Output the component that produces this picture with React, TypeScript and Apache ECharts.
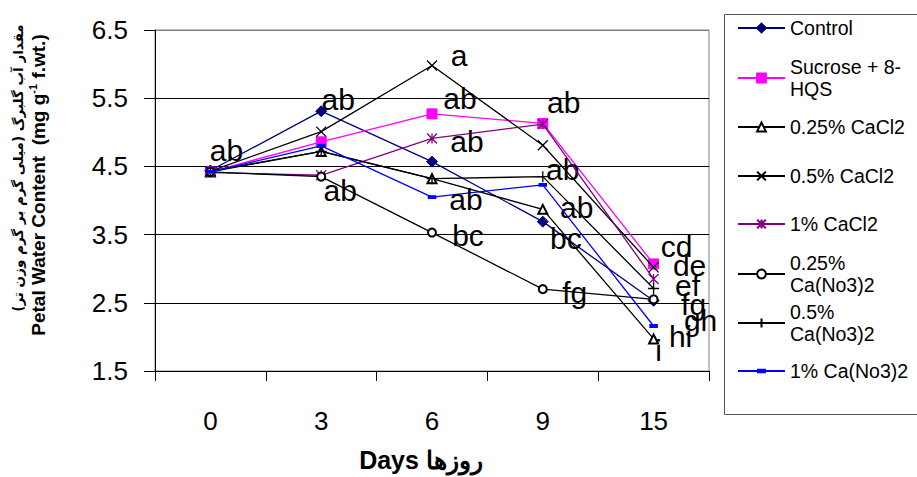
import React, { useEffect, useRef } from "react";
import * as echarts from "echarts";

const DAYS = ["0", "3", "6", "9", "15"];
const Y_TICKS_MIN = 1.5;
const Y_TICKS_MAX = 6.5;

const SERIES_NAMES = [
  "Control",
  "Sucrose + 8-HQS",
  "0.25% CaCl2",
  "0.5% CaCl2",
  "1% CaCl2",
  "0.25% Ca(No3)2",
  "0.5% Ca(No3)2",
  "1% Ca(No3)2",
];

const control = [4.44, 5.31, 4.57, 3.69, 2.53];
const sucrose = [4.42, 4.86, 5.27, 5.13, 3.07];
const cacl025 = [4.42, 4.72, 4.32, 3.87, 1.97];
const cacl05 = [4.43, 5.01, 5.98, 4.81, 3.02];
const cacl1 = [4.41, 4.37, 4.91, 5.12, 2.85];
const cano025 = [4.42, 4.35, 3.53, 2.7, 2.55];
const cano05 = [4.43, 4.72, 4.32, 4.35, 2.71];
const cano1 = [4.42, 4.8, 4.05, 4.23, 2.16];

const lettersControl = ["ab", "ab", "", "bc", "gh"];
const lettersSucrose = ["", "", "ab", "ab", "cd"];
const lettersCacl025 = ["", "", "", "ab", "i"];
const lettersCacl05 = ["", "", "a", "ab", "de"];
const lettersCacl1 = ["", "ab", "ab", "", "ef"];
const lettersCano025 = ["", "", "bc", "fg", ""];
const lettersCano05 = ["", "", "", "", "fg"];
const lettersCano1 = ["", "", "ab", "", "hi"];

const VALUES = [control, sucrose, cacl025, cacl05, cacl1, cano025, cano05, cano1];
const LETTERS = [
  lettersControl,
  lettersSucrose,
  lettersCacl025,
  lettersCacl05,
  lettersCacl1,
  lettersCano025,
  lettersCano05,
  lettersCano1,
];

// label offsets (style only)
const LABEL_OFFSETS: (number[] | null)[][] = [
  [[16, -20], [17, -12], null, [23, 17], [47, 20]],
  [null, null, [28, -15], [21, -21], [23, -17]],
  [null, null, null, [34, -2], [5, 12]],
  [null, null, [27, -10], [20, 24], [36, -2]],
  [null, [19, 15], [35, 3], null, [34, 7]],
  [null, null, [36, 3], [32, 3], null],
  [null, null, null, null, [40, 16]],
  [null, null, [34, 2], null, [27, 11]],
];

const FONT = "'Liberation Sans', Arial, sans-serif";

const STYLES = [
  { color: "#000080", symbol: "diamond", symbolSize: 11, fill: "#000080" },
  { color: "#FF00FF", symbol: "rect", symbolSize: 10, fill: "#FF00FF" },
  { color: "#000000", symbol: "emptyTriangle", symbolSize: 9, fill: "#000000" },
  { color: "#000000", symbol: "path://M0 0L10 10M10 0L0 10", symbolSize: 10, fill: "#000" },
  { color: "#800080", symbol: "path://M0 0L10 10M10 0L0 10M5 0L5 10", symbolSize: 10, fill: "#800080" },
  { color: "#000000", symbol: "emptyCircle", symbolSize: 8, fill: "#000000" },
  { color: "#000000", symbol: "path://M5 0L5 10M0 5L10 5", symbolSize: 11, fill: "#000" },
  { color: "#0000FF", symbol: "path://M0 0M10 10M1 3.6H9V6.4H1Z", symbolSize: 9, fill: "#0000FF" },
];

const LEGEND_CENTERS = [28, 78, 127, 176, 224, 274, 323, 371];
const LEGEND_WRAP: Record<string, string> = {
  "Sucrose + 8-HQS": "Sucrose + 8-\nHQS",
  "0.25% Ca(No3)2": "0.25%\nCa(No3)2",
  "0.5% Ca(No3)2": "0.5%\nCa(No3)2",
};

export default function App() {
  const ref = useRef<HTMLDivElement>(null);
  useEffect(() => {
    if (!ref.current) return;
    const chart = echarts.init(ref.current, undefined, { renderer: "svg" });

    const series = SERIES_NAMES.map((name, si) => {
      const st = STYLES[si];
      const isPath = st.symbol.startsWith("path://");
      const isEmpty = st.symbol.startsWith("empty");
      return {
        name,
        type: "line",
        data: VALUES[si].map((v, i) => {
          const letter = LETTERS[si][i];
          const off = LABEL_OFFSETS[si][i];
          return {
            value: v,
            label: letter
              ? {
                  show: true,
                  formatter: letter,
                  position: "inside",
                  offset: off || [20, 0],
                  align: "center",
                  verticalAlign: "middle",
                  fontSize: 30,
                  fontFamily: FONT,
                  color: "#000",
                }
              : { show: false },
          };
        }),
        symbol: st.symbol,
        symbolSize: st.symbolSize,
        showAllSymbol: true,
        color: st.color,
        lineStyle: { color: st.color, width: 1.3 },
        itemStyle: isEmpty
          ? { color: st.color, borderColor: st.color, borderWidth: 1.2 }
          : {
              color: st.fill,
              borderColor: st.color,
              borderWidth: isPath ? 1.3 : 1,
            },
        emphasis: { disabled: true },
        z: 2 + si,
      };
    });

    const legends = SERIES_NAMES.map((name, si) => {
      const wrapped = !!LEGEND_WRAP[name];
      return {
        data: [name],
        orient: "vertical",
        left: 737,
        top: LEGEND_CENTERS[si] - (wrapped ? 33 : 11),
        padding: 0,
        itemGap: 0,
        itemWidth: 47,
        itemHeight: 11,
        selectedMode: false,
        formatter: (n: string) => LEGEND_WRAP[n] || n,
        textStyle: {
          fontSize: 19.5,
          lineHeight: 22,
          fontFamily: FONT,
          color: "#000",
          padding: wrapped ? [22, 0, 0, 0] : 0,
        },
      };
    });

    chart.setOption({
      animation: false,
      backgroundColor: "#fff",
      grid: {
        left: 155,
        right: 208,
        top: 30,
        bottom: 99,
        show: true,
        borderColor: "#808080",
        borderWidth: 1,
        backgroundColor: "transparent",
      },
      legend: legends,
      xAxis: {
        type: "category",
        data: DAYS,
        boundaryGap: true,
        axisLine: { lineStyle: { color: "#000", width: 1 } },
        axisTick: { show: true, inside: false, length: 10, lineStyle: { color: "#000" } },
        axisLabel: { fontSize: 26, fontFamily: FONT, color: "#000", margin: 37 },
        splitLine: { show: false },
        name: "Days \u0631\u0648\u0632\u0647\u0627",
        nameLocation: "middle",
        nameGap: 76,
        nameTextStyle: {
          fontSize: 25,
          fontWeight: "bold",
          fontFamily: FONT,
          color: "#000",
          padding: [0, 22, 0, 0],
        },
      },
      yAxis: {
        type: "value",
        min: Y_TICKS_MIN,
        max: Y_TICKS_MAX,
        interval: 1,
        axisLine: { show: true, lineStyle: { color: "#000", width: 1 } },
        axisTick: { show: true, inside: false, length: 11, lineStyle: { color: "#000" } },
        axisLabel: { fontSize: 26, fontFamily: FONT, color: "#000", margin: 27 },
        splitLine: {
          show: true,
          lineStyle: {
            color: ["#000", "#000", "#000", "#000", "#000", "#808080"],
            width: 1,
          },
        },
      },
      graphic: [
        {
          type: "rect",
          left: 722,
          top: 12,
          shape: { width: 210, height: 400 },
          style: { fill: "none", stroke: "#555", lineWidth: 1 },
          silent: true,
        },
        {
          type: "text",
          x: 18,
          y: 168,
          rotation: Math.PI / 2,
          style: {
            text: "\u202B\u0645\u0642\u062F\u0627\u0631 \u0622\u0628 \u06AF\u0644\u0628\u0631\u06AF (\u0645\u06CC\u0644\u06CC \u06AF\u0631\u0645 \u0628\u0631 \u06AF\u0631\u0645 \u0648\u0632\u0646 \u062A\u0631)\u202C",
            align: "center",
            verticalAlign: "middle",
            fontSize: 13.5,
            fontWeight: "bold",
            fontFamily: "'DejaVu Sans', sans-serif",
            fill: "#000",
          },
          silent: true,
        },
        {
          type: "text",
          x: 38,
          y: 185,
          rotation: Math.PI / 2,
          style: {
            text: "{b|Petal Water Content  (mg g}{s|-1}{b| f.wt.)}",
            align: "center",
            verticalAlign: "middle",
            rich: {
              b: { fontSize: 19, fontWeight: "bold", fontFamily: FONT, fill: "#000", lineHeight: 22 },
              s: { fontSize: 11, fontWeight: "bold", fontFamily: FONT, fill: "#000", verticalAlign: "top", lineHeight: 22 },
            },
          },
          silent: true,
        },
      ],
      series,
    });

    return () => chart.dispose();
  }, []);

  return (
    <div
      ref={ref}
      style={{ position: "absolute", left: 0, top: 0, width: 917, height: 477 }}
    />
  );
}
